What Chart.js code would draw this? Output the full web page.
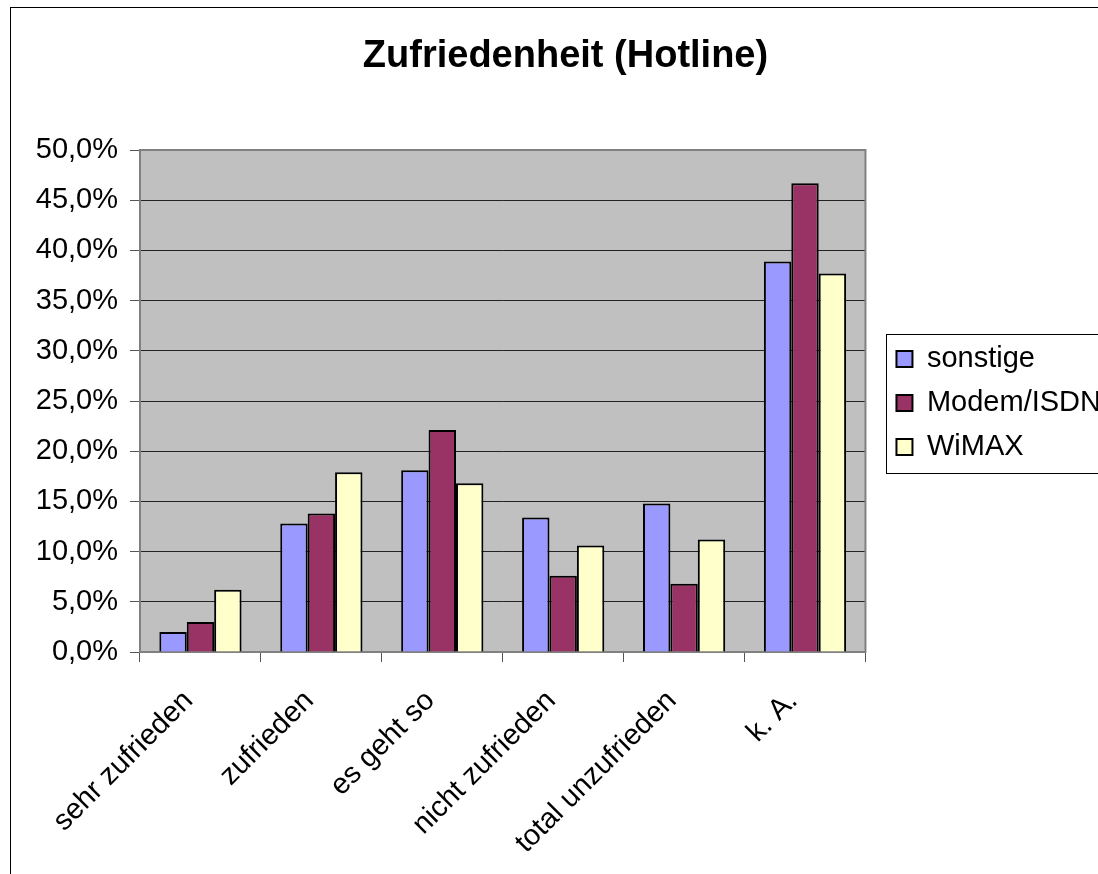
<!DOCTYPE html>
<html>
<head>
<meta charset="utf-8">
<script src="https://cdn.jsdelivr.net/npm/chart.js@4.4.1/dist/chart.umd.min.js"></script>
<style>
  html, body { margin: 0; padding: 0; background: #fff; overflow: hidden; }
  #wrap { width: 1126px; height: 874px; }
</style>
</head>
<body>
<div id="wrap"><canvas id="hotlineChart" width="1126" height="874"></canvas></div>
<script>
const categories = ["sehr zufrieden", "zufrieden", "es geht so", "nicht zufrieden", "total unzufrieden", "k. A."];
const sonstige = [2.0, 12.8, 18.1, 13.4, 14.8, 38.9];
const modemIsdn = [3.0, 13.8, 22.1, 7.6, 6.8, 46.7];
const wimax = [6.2, 17.9, 16.8, 10.6, 11.2, 37.7];

const font = "'Liberation Sans', Arial, sans-serif";

// background, outer frame, plot area fill, legend frame
const framePlugin = {
  id: "frame",
  beforeDraw(chart) {
    const ctx = chart.ctx;
    const a = chart.chartArea;
    ctx.save();
    ctx.fillStyle = "#fff";
    ctx.fillRect(0, 0, chart.width, chart.height);
    ctx.strokeStyle = "#000";
    ctx.lineWidth = 1;
    ctx.strokeRect(10.5, 7.5, 2000, 2000);
    ctx.fillStyle = "#c0c0c0";
    ctx.fillRect(a.left, a.top, a.right - a.left, a.bottom - a.top);
    ctx.restore();
  },
  beforeDatasetsDraw(chart) {
    const ctx = chart.ctx;
    const a = chart.chartArea;
    ctx.save();
    ctx.strokeStyle = "#808080";
    ctx.lineWidth = 2;
    ctx.strokeRect(a.left, a.top, a.right - a.left, a.bottom - a.top);
    ctx.restore();
  },
  afterLayout(chart) {
    // legend sits a bit away from the plot and higher up
    const lg = chart.legend;
    lg.left += 16;
    lg.right += 16;
    lg.top -= 34;
    lg.bottom -= 34;
    // title centred on the whole frame, not the canvas
    const t = chart.titleBlock;
    t.left += 18;
    t.right += 18;
  },
  afterDraw(chart) {
    const hb = chart.legend.legendHitBoxes;
    if (!hb || !hb.length) return;
    const ctx = chart.ctx;
    const last = hb[hb.length - 1];
    const x0 = hb[0].left - 10;
    const y0 = hb[0].top - 11;
    const y1 = last.top + last.height + 11;
    ctx.save();
    ctx.strokeStyle = "#000";
    ctx.lineWidth = 1;
    ctx.strokeRect(Math.round(x0) + 0.5, Math.round(y0) + 0.5, 300, Math.round(y1 - y0));
    ctx.restore();
  }
};

new Chart(document.getElementById("hotlineChart"), {
  type: "bar",
  data: {
    labels: categories,
    datasets: [
      { label: "sonstige", data: sonstige, backgroundColor: "#9999ff", borderColor: "#000", borderWidth: 2 },
      { label: "Modem/ISDN", data: modemIsdn, backgroundColor: "#993366", borderColor: "#000", borderWidth: 2 },
      { label: "WiMAX", data: wimax, backgroundColor: "#ffffcc", borderColor: "#000", borderWidth: 2 }
    ]
  },
  options: {
    responsive: false,
    animation: false,
    layout: { padding: { left: 0, right: 31, top: 0, bottom: 0 } },
    datasets: { bar: { categoryPercentage: 0.68, barPercentage: 1.0 } },
    plugins: {
      title: {
        display: true,
        text: "Zufriedenheit (Hotline)",
        color: "#000",
        font: { family: font, size: 38, weight: "bold" },
        padding: { top: 34, bottom: 70.4 }
      },
      legend: {
        position: "right",
        labels: {
          color: "#000",
          font: { family: font, size: 29 },
          boxWidth: 16,
          boxHeight: 16,
          padding: 15
        }
      },
      tooltip: { enabled: false }
    },
    scales: {
      x: {
        afterFit(scale) { scale.height = 222; },
        border: { display: false },
        grid: { drawOnChartArea: false, drawTicks: true, tickLength: 10, tickColor: "#555", offset: true },
        ticks: {
          color: "#000",
          font: { family: font, size: 29 },
          minRotation: 45,
          maxRotation: 45,
          autoSkip: false,
          padding: 22,
          labelOffset: -12
        }
      },
      y: {
        min: 0,
        max: 50,
        afterFit(scale) { scale.width = 140; },
        border: { display: false },
        grid: {
          color: (c) => (c.tick && (c.tick.value === 0 || c.tick.value === 50)) ? "rgba(0,0,0,0)" : "#222",
          lineWidth: 1,
          drawTicks: true,
          tickLength: 10,
          tickColor: "#555"
        },
        ticks: {
          stepSize: 5,
          color: "#000",
          font: { family: font, size: 29 },
          padding: 12,
          callback: (v) => v.toFixed(1).replace(".", ",") + "%"
        }
      }
    }
  },
  plugins: [framePlugin]
});
</script>
</body>
</html>
